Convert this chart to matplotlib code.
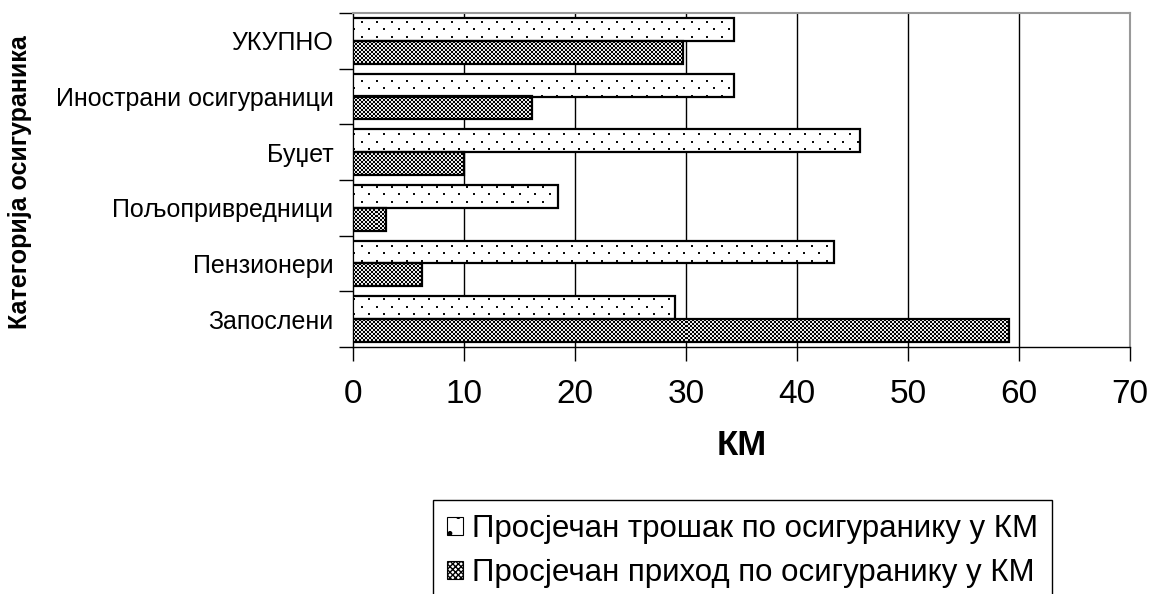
import matplotlib
matplotlib.use('Agg')
import matplotlib.pyplot as plt
import numpy as np
from matplotlib.patches import Patch

plt.rcParams['font.family'] = ['Liberation Sans', 'DejaVu Sans']

categories = ['Запослени', 'Пензионери', 'Пољопривредници', 'Буџет',
              'Инострани осигураници', 'УКУПНО']
trosak = [29.0, 43.3, 18.5, 45.7, 34.3, 34.3]
prihod = [59.1, 6.2, 3.0, 10.0, 16.1, 29.7]
label_trosak = 'Просјечан трошак по осигуранику у КМ'
label_prihod = 'Просјечан приход по осигуранику у КМ'
xticks = [0, 10, 20, 30, 40, 50, 60, 70]

W, H = 1150, 594
AX_W, AX_H = 777, 334
fig = plt.figure(figsize=(W / 100, H / 100), dpi=100)
ax = fig.add_axes([353 / W, 1 - 347 / H, AX_W / W, AX_H / H])

y = np.arange(len(categories))
h = 0.41
bars_t = ax.barh(y + h / 2, trosak, height=h, facecolor='none',
                 edgecolor='black', linewidth=1.6, zorder=4)
bars_p = ax.barh(y - h / 2, prihod, height=h, facecolor='none',
                 edgecolor='black', linewidth=1.6, zorder=4)

ax.set_xlim(0, 70)
ax.set_ylim(-0.5, len(categories) - 0.5)

# pixel textures (dots and checkerboard) clipped to the bars
rr, cc = np.mgrid[0:AX_H, 0:AX_W]
dots = np.ones((AX_H, AX_W))
dots[((rr % 15 < 2) & (cc % 15 < 2)) |
     (((rr + 7) % 15 < 2) & ((cc + 7) % 15 < 2))] = 0.05
checker = np.where(((rr // 2) + (cc // 2)) % 2 == 0, 0.0, 0.92)

def texture(bars, tex):
    for b in bars:
        im = ax.imshow(tex, cmap='gray', vmin=0, vmax=1, extent=(0, 1, 0, 1),
                       transform=ax.transAxes, interpolation='nearest',
                       aspect='auto', zorder=3)
        im.set_clip_path(b)

texture(bars_t, dots)
texture(bars_p, checker)

ax.set_xticks(xticks)
ax.set_xticklabels([str(t) for t in xticks], fontsize=24)
ax.tick_params(axis='x', direction='out', length=10, width=1, pad=13)
for v in xticks[1:-1]:
    ax.axvline(v, color='black', linewidth=1, zorder=1)

ax.set_yticks(y)
ax.set_yticklabels(categories, fontsize=18)
ax.tick_params(axis='y', which='major', length=0, pad=14)
ax.set_yticks(np.arange(-0.5, len(categories)), minor=True)
ax.tick_params(axis='y', which='minor', direction='out', length=10, width=1)

for s in ['top', 'right']:
    ax.spines[s].set_color('#999999')
    ax.spines[s].set_linewidth(1.5)
for s in ['left', 'bottom']:
    ax.spines[s].set_color('black')
    ax.spines[s].set_linewidth(1)

ax.set_xlabel('КМ', fontsize=25, fontweight='bold')
ax.xaxis.set_label_coords(0.5, -0.245)
ax.xaxis.label.set_va('top')

fig.text(20 / W, 1 - 182 / H, 'Категорија осигураника', rotation=90,
         ha='center', va='center', fontsize=18, fontweight='bold')

handles = [Patch(facecolor='white', edgecolor='black', hatch='.', linewidth=0.8),
           Patch(facecolor='white', edgecolor='black', hatch='xxxxxx', linewidth=0.8)]
leg = fig.legend(handles, [label_trosak, label_prihod], loc='upper left',
                 bbox_to_anchor=(433 / W, 1 - 500 / H), borderaxespad=0,
                 prop={'size': 22.5}, handlelength=0.5, handleheight=0.5,
                 handletextpad=0.3, borderpad=0.45, labelspacing=0.45,
                 fancybox=False, framealpha=1, edgecolor='black')
leg.get_frame().set_linewidth(1)

fig.savefig('out.png', dpi=100)
